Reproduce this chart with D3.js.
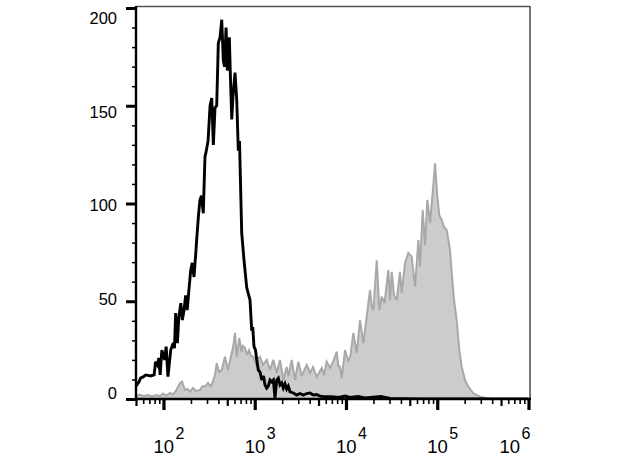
<!DOCTYPE html>
<html>
<head>
<meta charset="utf-8">
<script src="https://cdn.jsdelivr.net/npm/d3@7/dist/d3.min.js"></script>
<style>
  html, body { margin: 0; padding: 0; background: #fff; }
  svg { display: block; font-family: "Liberation Sans", Arial, sans-serif; }
</style>
</head>
<body>
<svg id="chart" width="621" height="466"></svg>
<script>
// ---- Data ----
const xDomain = [50, 1e6];
const yDomain = [0, 200];
const yTicksMajor = [0, 50, 100, 150, 200];
const xDecades = [2, 3, 4, 5, 6];

// Unstained / control (black line)
const blackX = [50, 54, 56, 60, 64, 72, 79, 82, 86, 89, 92, 96, 103, 107, 112, 120, 128, 132, 136, 142,
  147, 155, 161, 168, 175, 182, 190, 199, 207, 216, 226, 231, 242, 251, 261, 273, 285, 292, 308, 324,
  338, 352, 367, 383, 399, 417, 435, 453, 467, 485, 501, 516, 527, 543, 560, 578, 608, 635, 661, 681,
  720, 763, 817, 888, 927, 951, 982, 1020, 1052, 1095, 1143, 1193, 1248, 1297, 1353, 1409, 1470, 1535, 1600, 1668,
  1741, 1812, 1892, 1976, 2057, 2147, 2239, 2333, 2436, 2649, 2884, 3133, 3407, 3714, 4036, 4387, 4775, 5190, 5650, 6683,
  7585, 8600, 9772, 11070, 13550, 16180, 24210, 30400, 64710, 1000000];
const blackY = [6.6, 8.8, 10.7, 11.3, 12.3, 11.8, 12.3, 19.1, 17.4, 21, 12.3, 25, 20, 26.8, 11.4, 25, 28.6, 26, 44, 28.6,
  41.4, 49, 40.4, 45.5, 53, 45.5, 55.8, 66, 69.6, 62.4, 74.7, 81.3, 94, 101.8, 104, 95, 124, 126, 132, 150,
  154, 130, 149, 150, 182, 185, 194, 173, 170, 190, 168, 173, 185, 163, 143, 155, 167, 153, 127, 132,
  85, 71, 57, 50.6, 35, 36.8, 26.8, 25, 20, 14.8, 13.8, 9.7, 11.8, 7.2, 5.6, 6.6, 9.7, 8.8, 9.7, 0.5,
  9.7, 10.7, 7.2, 8.2, 5.6, 7.7, 5.1, 6.6, 3.7, 3.1, 2, 2.8, 2, 2.8, 3.1, 2, 2.3, 1.5, 1.2, 1.2,
  1, 0.9, 1.5, 0.8, 1.3, 0.5, 1.3, 0.3, 0, 0];

// Stained sample (grey filled)
const greyX = [50, 55, 61, 68, 75, 84, 92, 99, 107, 118, 127, 137, 152, 160, 172, 183, 195, 211, 227, 251,
  268, 285, 308, 332, 352, 367, 383, 406, 435, 472, 509, 560, 585, 608, 635, 678, 717, 745, 783, 824,
  866, 911, 966, 1052, 1101, 1143, 1233, 1353, 1470, 1600, 1741, 1892, 2057, 2239, 2344, 2541, 2762, 3004, 3273, 3714,
  4036, 4355, 4775, 5420, 5745, 6148, 6683, 7211, 7910, 8240, 8600, 8970, 9755, 10610, 11220, 12030, 13110, 14260, 15500, 16870,
  18340, 19050, 19950, 21730, 23200, 24620, 26420, 29100, 30400, 31700, 33600, 35950, 39080, 40800, 44360, 48200, 52480, 57100, 62100, 64700,
  69300, 73500, 77900, 83300, 89100, 94600, 100200, 105400, 112000, 118600, 127000, 138000, 144100, 152800, 163400, 174500, 185300, 201400, 218800, 248200,
  294200, 348500, 429700];
const greyY = [1.5, 2.3, 1.5, 2, 1.3, 2, 1.5, 2.8, 1.8, 3.1, 2.3, 4.1, 8.2, 8.8, 4.6, 5.1, 3.7, 5.6, 4.1, 4.6,
  6.6, 6.3, 8.2, 6.6, 9.7, 12.3, 18.4, 13.8, 14.8, 21.6, 14.8, 23.5, 27.6, 33.8, 21.6, 31.2, 24, 27.1, 26.1, 22.5,
  25, 22, 21.6, 16.5, 21, 21.6, 17.4, 20, 14.8, 20, 13.3, 20, 9.7, 16.4, 11.8, 20, 9.7, 19.1, 11.8, 17.4,
  13.3, 16.4, 11.3, 15.9, 12.3, 19.1, 15.9, 18.9, 24.2, 16.9, 16.5, 10.7, 25, 19.1, 22.5, 33.8, 23.5, 40.4, 28.6, 42.1,
  55.8, 48, 45.5, 71, 45.5, 52.3, 49, 66, 50.6, 65, 53.2, 50.6, 65, 54.2, 69.6, 74.7, 72.8, 57.4, 81.3, 67.7,
  96.7, 78.8, 101.8, 90, 105.4, 120.6, 103.5, 94, 91.6, 88.1, 86.4, 76.2, 64.5, 50.6, 40.4, 25, 16.5, 9.7, 6.3, 2.9,
  1.2, 0.4, 0];

// ---- Layout ----
const plot = { left: 136, right: 528.5, top: 7, bottom: 399 };
const svg = d3.select("#chart");

const x = d3.scaleLog().domain(xDomain).range([plot.left, plot.right]);
const y = d3.scaleLinear().domain(yDomain).range([plot.bottom, plot.top + 1]);
const yLabel = d3.scaleLinear().domain(yDomain).range([393, 18]);

// clip
svg.append("defs").append("clipPath").attr("id", "clip")
  .append("rect").attr("x", plot.left).attr("y", plot.top)
  .attr("width", 530 - plot.left).attr("height", plot.bottom - plot.top);

const g = svg.append("g").attr("clip-path", "url(#clip)");

const greyData = greyX.map((v, i) => [v, greyY[i]]);
const blackData = blackX.map((v, i) => [v, blackY[i]]);

g.append("path").datum(greyData)
  .attr("d", d3.area().x(d => x(d[0])).y0(y(0)).y1(d => y(d[1])))
  .attr("fill", "#cccccc");
g.append("path").datum(greyData)
  .attr("d", d3.line().x(d => x(d[0])).y(d => y(d[1])))
  .attr("fill", "none").attr("stroke", "#a8a8a8").attr("stroke-width", 2)
  .attr("stroke-linejoin", "miter").attr("stroke-miterlimit", 3);

g.append("path").datum(blackData)
  .attr("d", d3.line().x(d => x(d[0])).y(d => y(d[1])))
  .attr("fill", "none").attr("stroke", "#000").attr("stroke-width", 2.9)
  .attr("stroke-linejoin", "miter").attr("stroke-miterlimit", 3);

// frame (top, right)
svg.append("line").attr("x1", plot.left).attr("x2", 530).attr("y1", 6.5).attr("y2", 6.5)
  .attr("stroke", "#555").attr("stroke-width", 1.6);
svg.append("line").attr("x1", 530).attr("x2", 530).attr("y1", 6).attr("y2", plot.bottom)
  .attr("stroke", "#555").attr("stroke-width", 1.6);

// ---- Y axis ----
const yMinor = d3.range(0, 201, 10).filter(v => v % 50 !== 0);
const yAxisMinor = d3.axisLeft(y).tickValues(yMinor).tickSize(4).tickFormat("");
const yAxisMajor = d3.axisLeft(y).tickValues(yTicksMajor).tickSize(10).tickFormat("");
const ya1 = svg.append("g").attr("transform", `translate(${plot.left},0)`).call(yAxisMinor);
const ya2 = svg.append("g").attr("transform", `translate(${plot.left},0)`).call(yAxisMajor);
ya1.select(".domain").remove();
ya1.selectAll("line").attr("stroke", "#000").attr("stroke-width", 1.5);
ya2.select(".domain").remove();
ya2.selectAll("line").attr("stroke", "#000").attr("stroke-width", 3);
svg.append("line").attr("x1", plot.left).attr("x2", plot.left).attr("y1", 6).attr("y2", plot.bottom + 1)
  .attr("stroke", "#000").attr("stroke-width", 2.4);

svg.append("g").selectAll("text").data(yTicksMajor).join("text")
  .attr("x", 117).attr("y", d => yLabel(d))
  .attr("dy", "0.36em").attr("text-anchor", "end")
  .attr("font-size", 16.5).attr("fill", "#000")
  .text(d => d);

// ---- X axis ----
const xMinor5 = [];
const xMinorOther = [];
for (let e = 1; e <= 5; e++) {
  for (let m = 2; m <= 9; m++) {
    const v = m * Math.pow(10, e);
    if (v < xDomain[0] || v > xDomain[1]) continue;
    if (m === 5) xMinor5.push(v); else xMinorOther.push(v);
  }
}
const xMajor = xDecades.map(e => Math.pow(10, e));
const xa1 = svg.append("g").attr("transform", `translate(0,${plot.bottom})`)
  .call(d3.axisBottom(x).tickValues(xMinorOther).tickSize(5).tickFormat(""));
const xa2 = svg.append("g").attr("transform", `translate(0,${plot.bottom})`)
  .call(d3.axisBottom(x).tickValues(xMinor5).tickSize(7).tickFormat(""));
const xa3 = svg.append("g").attr("transform", `translate(0,${plot.bottom})`)
  .call(d3.axisBottom(x).tickValues(xMajor).tickSize(11).tickFormat(""));
[xa1, xa2, xa3].forEach(a => a.select(".domain").remove());
xa1.selectAll("line").attr("stroke", "#000").attr("stroke-width", 1.6);
xa2.selectAll("line").attr("stroke", "#000").attr("stroke-width", 2.2);
xa3.selectAll("line").attr("stroke", "#000").attr("stroke-width", 3.2);
svg.append("line").attr("x1", plot.left - 1).attr("x2", 531).attr("y1", plot.bottom).attr("y2", plot.bottom)
  .attr("stroke", "#000").attr("stroke-width", 2.4);

const xl = svg.append("g").selectAll("g").data(xDecades).join("g")
  .attr("transform", (d, i) => `translate(${x(Math.pow(10, d)) - (i === xDecades.length - 1 ? 29 : 10)},453)`);
xl.append("text").attr("x", 0).attr("y", 0).attr("font-size", 18.5).attr("fill", "#000").text("10");
xl.append("text").attr("x", 22).attr("y", -14).attr("font-size", 16).attr("fill", "#000").text(d => d);
</script>
</body>
</html>
